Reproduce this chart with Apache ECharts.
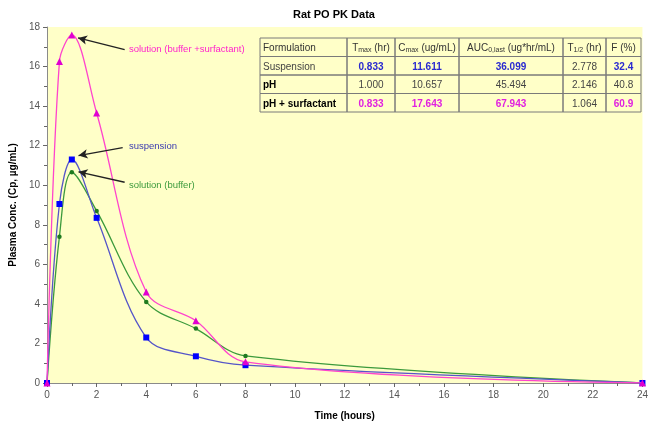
<!DOCTYPE html>
<html>
<head>
<meta charset="utf-8">
<script src="https://cdn.jsdelivr.net/npm/echarts@6/dist/echarts.min.js"></script>
<style>
  html, body { margin: 0; padding: 0; background: #fff; }
  #main { width: 651px; height: 426px; }
</style>
</head>
<body>
<div id="main"></div>
<script>
// 数据
const timePoints = [0, 0.5, 1, 2, 4, 6, 8, 24];
const suspension = [0, 9.05, 11.3, 8.35, 2.3, 1.35, 0.9, 0];
const solutionBuffer = [0, 7.4, 10.65, 8.7, 4.1, 2.75, 1.37, 0];
const solutionSurfactant = [0, 16.25, 17.6, 13.65, 4.6, 3.15, 1.07, 0];

// 注释: [文字, 文字位置 t, c, 箭头起点 t, c, 箭头终点 t, c]
const noteSurfactant = ['solution (buffer +surfactant)', 3.3, 16.85, 3.13, 16.85, 1.25, 17.45];
const noteSuspension = ['suspension', 3.3, 11.95, 3.05, 11.9, 1.27, 11.5];
const noteBuffer = ['solution (buffer)', 3.3, 10.0, 3.13, 10.15, 1.27, 10.68];

// 表格
const tableHeader = [
  ['Formulation', '', ''],
  ['T', 'max', ' (hr)'],
  ['C', 'max', ' (ug/mL)'],
  ['AUC', '0,last', ' (ug*hr/mL)'],
  ['T', '1/2', ' (hr)'],
  ['F (%)', '', '']
];
const tableRows = [
  ['Suspension', '0.833', '11.611', '36.099', '2.778', '32.4'],
  ['pH', '1.000', '10.657', '45.494', '2.146', '40.8'],
  ['pH + surfactant', '0.833', '17.643', '67.943', '1.064', '60.9']
];

const FONT = '"Liberation Sans", Arial, sans-serif';

function toPairs(ys) {
  return timePoints.map((t, i) => [t, ys[i]]);
}

function noteParts(note, color) {
  return {
    markLine: {
      silent: true,
      symbol: ['none', 'arrow'],
      symbolSize: [7, 9],
      lineStyle: { color: '#222', width: 1.3, type: 'solid' },
      label: { show: false },
      data: [[{ coord: [note[3], note[4]] }, { coord: [note[5], note[6]] }]]
    },
    markPoint: {
      silent: true,
      symbol: 'circle',
      symbolSize: 0,
      data: [{
        coord: [note[1], note[2]],
        label: {
          show: true, position: 'right', distance: 0,
          formatter: note[0], color: color, fontSize: 9.5, fontFamily: FONT
        }
      }]
    }
  };
}

//生成表格
function createTable() {
  const colX = [260, 347, 395, 459, 563, 606, 641];
  const top = 38;
  const rowH = 18.5;
  const blue = '#2a2ad0';
  const pink = '#e020e0';
  let els = [];
  let allRows = [tableHeader].concat(tableRows);
  allRows.forEach((row, r) => {
    row.forEach((cell, c) => {
      let x0 = colX[c], x1 = colX[c + 1];
      let y0 = top + r * rowH;
      els.push({
        type: 'rect',
        shape: { x: x0, y: y0, width: x1 - x0, height: rowH },
        style: { fill: 'rgba(0,0,0,0)', stroke: '#7a7a7a', lineWidth: 1 },
        silent: true
      });
      let text, style;
      if (r === 0) {
        text = cell[1] ? cell[0] + '{s|' + cell[1] + '}' + cell[2] : cell[0];
        style = { fill: '#333', fontSize: 10, fontWeight: 'normal' };
      } else if (c === 0) {
        text = cell;
        style = r === 1 ? { fill: '#444', fontSize: 10, fontWeight: 'normal' }
                        : { fill: '#000', fontSize: 10, fontWeight: 'bold' };
      } else {
        text = cell;
        if (r === 2 || c === 4) {
          style = { fill: '#444', fontSize: 10, fontWeight: 'normal' };
        } else {
          style = { fill: r === 1 ? blue : pink, fontSize: 10, fontWeight: 'bold' };
        }
      }
      els.push({
        type: 'text',
        silent: true,
        x: c === 0 ? x0 + 3 : (x0 + x1) / 2,
        y: y0 + rowH / 2 + 1,
        style: Object.assign({
          text: text,
          fontFamily: FONT,
          align: c === 0 ? 'left' : 'center',
          verticalAlign: 'middle',
          rich: { s: { fontSize: 7, fill: '#333', fontFamily: FONT, padding: [4, 0, 0, 0] } }
        }, style)
      });
    });
  });
  return els;
}

let chart = echarts.init(document.getElementById('main'));

const axisCommon = {
  type: 'value',
  axisLine: { show: true, lineStyle: { color: '#8a8a8a', width: 1 } },
  axisTick: { show: true, inside: false, length: 4, lineStyle: { color: '#666' } },
  minorTick: { show: true, splitNumber: 2, length: 3, lineStyle: { color: '#666' } },
  splitLine: { show: false },
  axisLabel: { color: '#555', fontSize: 10, fontFamily: FONT },
  nameTextStyle: { color: '#000', fontSize: 10, fontWeight: 'bold', fontFamily: FONT }
};

chart.setOption({
  animation: false,
  backgroundColor: '#fff',
  title: {
    text: 'Rat PO PK Data',
    left: 288, top: 4,
    textStyle: { fontSize: 11, fontWeight: 'bold', color: '#000', fontFamily: FONT }
  },
  grid: {
    left: 46, right: 0, top: 27, bottom: 39,
    show: true, backgroundColor: '#ffffc8', borderWidth: 0
  },
  xAxis: Object.assign({}, axisCommon, {
    min: 0, max: 24, interval: 2,
    name: 'Time (hours)', nameLocation: 'middle', nameGap: 28,
    axisLabel: Object.assign({}, axisCommon.axisLabel, { margin: 7, alignMaxLabel: 'center' })
  }),
  yAxis: Object.assign({}, axisCommon, {
    min: 0, max: 18, interval: 2,
    name: 'Plasma Conc. (Cp, µg/mL)', nameLocation: 'middle', nameGap: 24,
    axisLabel: Object.assign({}, axisCommon.axisLabel, { margin: 7 })
  }),
  series: [
    Object.assign({
      name: 'suspension', type: 'line', smooth: 0.35,
      data: toPairs(suspension),
      symbol: 'rect', symbolSize: 6,
      itemStyle: { color: '#0000ff' },
      lineStyle: { color: '#5555c8', width: 1.3 },
      z: 3
    }, noteParts(noteSuspension, '#3a3ab0')),
    Object.assign({
      name: 'solution (buffer)', type: 'line', smooth: 0.35,
      data: toPairs(solutionBuffer),
      symbol: 'circle', symbolSize: 4.5,
      itemStyle: { color: '#1f7a1f' },
      lineStyle: { color: '#3c9a3c', width: 1.3 },
      z: 2
    }, noteParts(noteBuffer, '#3c9a3c')),
    Object.assign({
      name: 'solution (buffer +surfactant)', type: 'line', smooth: 0.35,
      data: toPairs(solutionSurfactant),
      symbol: 'triangle', symbolSize: 7,
      itemStyle: { color: '#e000d0' },
      lineStyle: { color: '#ff44cc', width: 1.3 },
      z: 4
    }, noteParts(noteSurfactant, '#ff22cc'))
  ],
  graphic: createTable()
});
</script>
</body>
</html>
